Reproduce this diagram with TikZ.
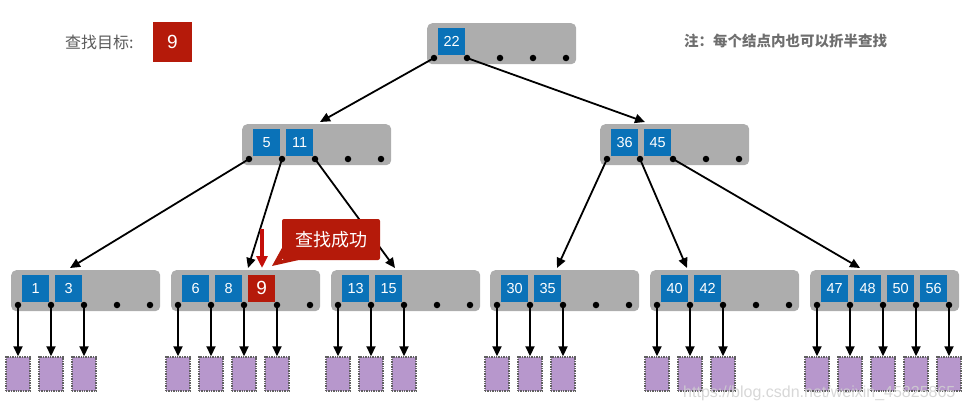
\documentclass[tikz,border=0pt]{standalone}
\usepackage{fontspec}
\setmainfont{Liberation Sans}
\newfontfamily\cjk{Noto Sans CJK SC}
\usetikzlibrary{calc,arrows.meta}
\definecolor{gnodec}{HTML}{ADADAD}
\definecolor{keyc}{HTML}{0A72B8}
\definecolor{redc}{HTML}{B51A0A}
\definecolor{arrred}{HTML}{C40F0A}
\definecolor{leafc}{HTML}{B797CC}
\definecolor{txtc}{HTML}{5A5A5A}
\definecolor{notec}{HTML}{6E6E6E}
\definecolor{wmc}{HTML}{D0D0D0}
\tikzset{
  gnode/.style={fill=gnodec, rounded corners=5pt, minimum width=149pt, minimum height=41pt, inner sep=0pt},
  keybox/.style={fill=keyc, text=white, minimum width=27pt, minimum height=27pt, inner sep=0pt, anchor=north west, font=\fontsize{14.5}{15}\selectfont},
  dotn/.style={circle, fill=black, inner sep=0pt, minimum size=6.5pt},
  leaf/.style={fill=leafc, draw=gray!75!black, densely dotted, line width=1.4pt, minimum width=24pt, minimum height=34pt, inner sep=0pt},
  edge/.style={-{Triangle[length=10pt,width=9pt]}, line width=1.8pt},
  redarrow/.style={-{Triangle[length=12pt,width=11pt]}, line width=3.2pt, draw=arrred, fill=arrred}
}
\newcommand\bnode[3]{%
  \node[gnode, anchor=north west] (#1) at (#2,#3) {};
  \foreach \k in {0,...,4}{\node[dotn] (#1d\k) at ($(#1.north west)+({7+33*\k},35)$) {};}
}
\newcommand\bkey[4]{\node[keybox,#4] (#1k#2) at ($(#1.north west)+({11+33*#2},4.5)$) {#3};}
\newcommand\bleaves[2]{%
  \foreach \k in {0,...,#2}{%
    \node[leaf] (#1l\k) at (#1d\k |- 0,374) {};
    \draw[edge] (#1d\k.center) -- (#1l\k.north);
  }
}
\begin{document}
\begin{tikzpicture}[x=1pt,y=-1pt]
\useasboundingbox (0,0) rectangle (965,412);
% header texts
\node[text=txtc, font=\cjk\fontsize{16}{18}\selectfont, anchor=west, inner sep=0pt] (lbl) at (65,42) {查找目标:};
\node[fill=redc, text=white, minimum width=39pt, minimum height=40pt, inner sep=0pt, font=\fontsize{19}{20}\selectfont] (tgt) at (172.5,42) {9};
\node[text=notec, font=\cjk\bfseries\fontsize{14.5}{16}\selectfont, anchor=west, inner sep=0pt] (note) at (684,41) {注：每个结点内也可以折半查找};
% nodes
\bnode{r}{427}{23}
\bkey{r}{0}{22}{}
\bnode{a}{242}{124}
\bkey{a}{0}{5}{}\bkey{a}{1}{11}{}
\bnode{b}{600}{124}
\bkey{b}{0}{36}{}\bkey{b}{1}{45}{}
\bnode{c1}{11}{270}
\bkey{c1}{0}{1}{}\bkey{c1}{1}{3}{}
\bnode{c2}{171}{270}
\bkey{c2}{0}{6}{}\bkey{c2}{1}{8}{}\bkey{c2}{2}{9}{fill=redc, font=\fontsize{19}{20}\selectfont}
\bnode{c3}{331}{270}
\bkey{c3}{0}{13}{}\bkey{c3}{1}{15}{}
\bnode{c4}{490}{270}
\bkey{c4}{0}{30}{}\bkey{c4}{1}{35}{}
\bnode{c5}{650}{270}
\bkey{c5}{0}{40}{}\bkey{c5}{1}{42}{}
\bnode{c6}{810}{270}
\bkey{c6}{0}{47}{}\bkey{c6}{1}{48}{}\bkey{c6}{2}{50}{}\bkey{c6}{3}{56}{}
% leaves
\bleaves{c1}{2}
\bleaves{c2}{3}
\bleaves{c3}{2}
\bleaves{c4}{2}
\bleaves{c5}{2}
\bleaves{c6}{4}
% edge targets
\coordinate (ta) at (320,122);
\coordinate (tb) at (645,122);
\coordinate (tc1) at (70,268);
\coordinate (tc2) at (248,268);
\coordinate (tc3) at (395,268);
\coordinate (tc4) at (557,268);
\coordinate (tc5) at (687,268);
\coordinate (tc6) at (860,268);
\draw[edge] (rd0.center) -- (ta);
\draw[edge] (rd1.center) -- (tb);
\draw[edge] (ad0.center) -- (tc1);
\draw[edge] (ad1.center) -- (tc2);
\draw[edge] (ad2.center) -- (tc3);
\draw[edge] (bd0.center) -- (tc4);
\draw[edge] (bd1.center) -- (tc5);
\draw[edge] (bd2.center) -- (tc6);
% callout
\node[fill=redc, text=white, minimum width=98pt, minimum height=41pt, inner sep=0pt, rounded corners=2pt, font=\cjk\fontsize{18}{20}\selectfont] (succ) at (331,239.5) {查找成功};
\coordinate (tip) at (272,266);
\fill[redc] ($(succ.south west)+(0,-12)$) -- (tip) -- ($(succ.south west)+(16,0)$) -- (succ.south west) -- cycle;
\coordinate (ra) at (262,229);
\coordinate (rb) at (262,268);
\draw[redarrow] (ra) -- (rb);
% watermark
\node[text=wmc, opacity=0.85, font=\fontsize{16}{17}\selectfont, anchor=west, inner sep=0pt] (wm) at (683,393) {https://blog.csdn.net/weixin\_45825865};
\end{tikzpicture}
\end{document}
